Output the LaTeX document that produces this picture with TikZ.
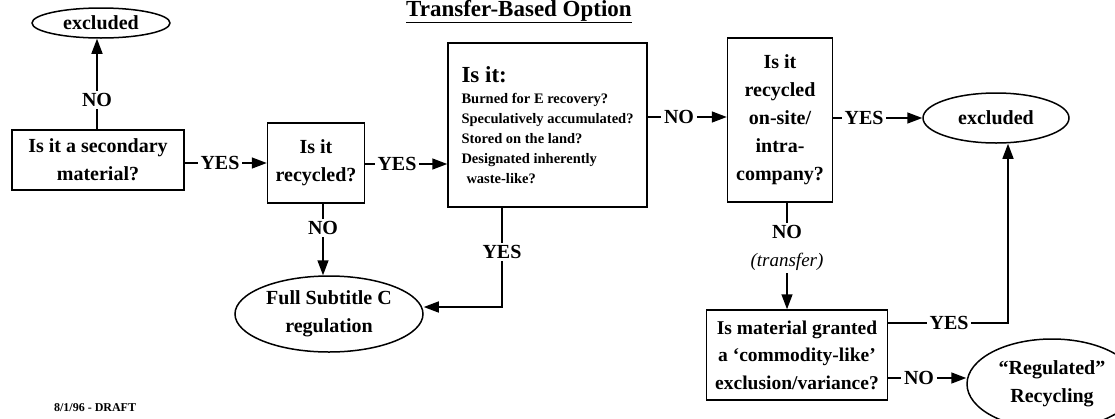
\documentclass[tikz,border=0pt]{standalone}
\usepackage{fontspec}
\setmainfont{Liberation Serif}
\usetikzlibrary{arrows.meta,shapes.geometric}

\begin{document}
\begin{tikzpicture}[x=1pt,y=-1pt,
		line width=1.5pt,
		every node/.style={font=\bfseries\fontsize{20}{28}\selectfont},
		qbox/.style={draw,rectangle,align=center,inner sep=2pt},
		endpt/.style={draw,ellipse,align=center,inner sep=0pt},
		lbl/.style={inner sep=2pt},
		arr/.style={-{Triangle[length=15pt,width=11pt]}}]
		\useasboundingbox (0,0) rectangle (1115,418);
		
		\node[anchor=base] (title) at (519,16) {\fontsize{23}{28}\selectfont\underline{Transfer-Based Option}};
		
		% question boxes
		\node[qbox,minimum width=172,minimum height=60] (q1) at (98,160) {Is it a secondary\\material?};
		\node[qbox,minimum width=97,minimum height=80] (q2) at (316,163) {Is it\\recycled?};
		\node[qbox,minimum width=199,minimum height=164,align=left,inner sep=12pt,
			font=\bfseries\fontsize{14.5}{20}\selectfont] (q3) at (547.5,125)
			{{\fontsize{23}{26}\selectfont Is it:}\\[1pt]
			Burned for E recovery?\\
			Speculatively accumulated?\\
			Stored on the land?\\
			Designated inherently\\
			\hspace{5pt}waste-like?};
		\node[qbox,minimum width=105,minimum height=164] (q4) at (780,120) {Is it\\recycled\\on-site/\\intra-\\company?};
		\node[qbox,minimum width=181,minimum height=90,inner sep=1pt,font=\bfseries\fontsize{19.5}{27.5}\selectfont] (q5) at (797,355)
			{Is material granted\\a `commodity-like'\\exclusion/variance?};
		
		% end points
		\node[endpt,minimum width=138,minimum height=30] (ex1) at (101,23) {excluded};
		\node[endpt,minimum width=146,minimum height=50] (ex2) at (996,118) {excluded};
		\node[endpt,minimum width=188,minimum height=76] (full) at (329,314) {Full Subtitle C\\regulation};
		\node[endpt,minimum width=170,minimum height=90] (reg) at (1052,384) {``Regulated''\\Recycling};
		
		% answers
		\node[lbl] (no1) at (97,100) {NO};
		\node[lbl] (yes1) at (220,163) {YES};
		\node[lbl] (yes2) at (397,164) {YES};
		\node[lbl] (no2) at (323,228) {NO};
		\node[lbl] (yes3) at (502,252) {YES};
		\node[lbl] (no3) at (679,117) {NO};
		\node[lbl] (yes4) at (864,118) {YES};
		\node[lbl] (no4) at (787,232) {NO};
		\node[lbl,font=\itshape\fontsize{19}{22}\selectfont] (trans) at (787,262) {(transfer)};
		\node[lbl] (yes5) at (949,323) {YES};
		\node[lbl] (no5) at (919,378) {NO};
		
		\coordinate (c3) at (502,307);
		\coordinate (c5) at (1008,323);
		
		\draw (q1.north -| no1) -- (no1);
		\draw[arr] (no1) -- (ex1.south -| no1);
		\draw (q1.east |- yes1) -- (yes1);
		\draw[arr] (yes1) -- (q2.west |- yes1);
		\draw (q2.east |- yes2) -- (yes2);
		\draw[arr] (yes2) -- (q3.west |- yes2);
		\draw (q2.south -| no2) -- (no2);
		\draw[arr] (no2) -- (full.north -| no2);
		\draw (q3.south -| yes3) -- (yes3);
		\draw[arr] (yes3) -- (c3) -- (c3 -| full.east);
		\draw (q3.east |- no3) -- (no3);
		\draw[arr] (no3) -- (q4.west |- no3);
		\draw (q4.east |- yes4) -- (yes4);
		\draw[arr] (yes4) -- (ex2.west |- yes4);
		\draw (q4.south -| no4) -- (no4);
		\draw[arr] (trans) -- (q5.north -| trans);
		\draw (q5.east |- yes5) -- (yes5);
		\draw[arr] (yes5) -- (c5) -- (c5 |- ex2.south);
		\draw (q5.east |- no5) -- (no5);
		\draw[arr] (no5) -- (no5 -| reg.west);
		
		\node[anchor=base west,font=\bfseries\fontsize{12}{14}\selectfont] (date) at (50,411) {8/1/96 - DRAFT};
	\end{tikzpicture}
\end{document}
